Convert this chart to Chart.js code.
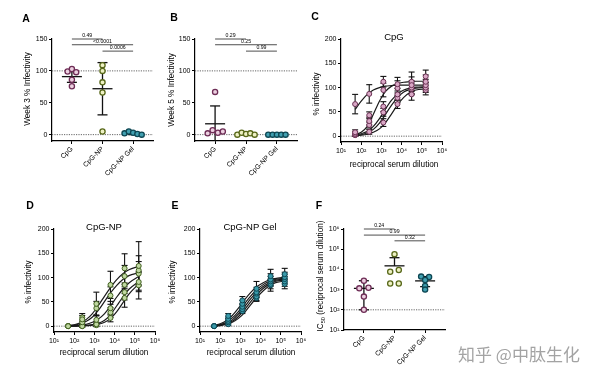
<!DOCTYPE html>
<html><head><meta charset="utf-8">
<script src="https://cdn.jsdelivr.net/npm/chart.js@4.4.1/dist/chart.umd.min.js"></script>
<style>
html,body{margin:0;padding:0;background:#fff;}
#wrap{position:relative;width:600px;height:379px;overflow:hidden;font-family:"Liberation Sans",Arial,sans-serif;color:#000;}
canvas{position:absolute;left:0;top:0;}
.t{position:absolute;white-space:nowrap;transform:translate(-50%,-50%);line-height:1;}
.r{transform:translate(-50%,-50%) rotate(-90deg);}
.lt{font-weight:bold;font-size:10.5px;}
.ttl{font-size:9.5px;}
.ax{font-size:8.2px;}
.wm{font-family:"Noto Sans CJK SC",sans-serif;font-size:17px;color:#a3a3a3;transform:translate(0,-50%);}
sub{font-size:0.7em;vertical-align:-0.25em;}
</style></head>
<body><div id="wrap">
<canvas id="cA" width="600" height="379"></canvas>
<canvas id="cB" width="600" height="379"></canvas>
<canvas id="cC" width="600" height="379"></canvas>
<canvas id="cD" width="600" height="379"></canvas>
<canvas id="cE" width="600" height="379"></canvas>
<canvas id="cF" width="600" height="379"></canvas>

<div class="t lt" style="left:26px;top:18px">A</div>
<div class="t lt" style="left:174px;top:17px">B</div>
<div class="t lt" style="left:315px;top:16px">C</div>
<div class="t lt" style="left:30px;top:205px">D</div>
<div class="t lt" style="left:175px;top:205px">E</div>
<div class="t lt" style="left:319px;top:205px">F</div>

<div class="t ttl" style="left:394px;top:37px">CpG</div>
<div class="t ttl" style="left:104px;top:227px">CpG-NP</div>
<div class="t ttl" style="left:250px;top:227px">CpG-NP Gel</div>

<div class="t ax r" style="left:28px;top:89px">Week 3 % Infectivity</div>
<div class="t ax r" style="left:172px;top:90px">Week 5 % Infectivity</div>
<div class="t ax r" style="left:317px;top:94px">% infectivity</div>
<div class="t ax r" style="left:29px;top:282px">% infectivity</div>
<div class="t ax r" style="left:173px;top:282px">% infectivity</div>
<div class="t ax r" style="left:322px;top:276px">IC<sub>50</sub> (reciprocal serum dilution)</div>

<div class="t ax" style="left:394px;top:165px">reciprocal serum dilution</div>
<div class="t ax" style="left:104px;top:353px">reciprocal serum dilution</div>
<div class="t ax" style="left:251px;top:353px">reciprocal serum dilution</div>

<div class="t wm" style="left:458px;top:353px">知乎 @中肽生化</div>
</div>
<script>
// ---------- data ----------
const categories = ['CpG', 'CpG-NP', 'CpG-NP Gel'];
const weekTicks = [0, 50, 100, 150];
const infTicks = [0, 50, 100, 150, 200];
const powTicks = [10, 100, 1000, 10000, 100000, 1000000];

// Panel A : week 3 % infectivity
const aCpG = [99, 103, 98, 86, 76];
const aNP = [109, 100, 82, 66, 5];
const aGel = [2, 5, 3, 1, 0];
const aSwarm = [[-0.14, 0, 0.14, 0, 0], [0, 0, 0, 0, 0], [-0.28, -0.14, 0, 0.14, 0.28]];
const aMean = [91, 72, 2];
const aLow = [82, 31, 0];
const aHigh = [99, 113, 4];
const aBracketY = [150, 141, 131];
const aPLabels = ['0.49', '<0.0001', '0.0006'];

// Panel B : week 5 % infectivity
const bCpG = [67, 2, 7, 3, 5];
const bNP = [0, 3, 1, 2, 0];
const bGel = [0, 0, 0, 0, 0];
const bSwarm = [[0, -0.24, -0.08, 0.09, 0.25], [-0.28, -0.14, 0, 0.14, 0.28], [-0.28, -0.14, 0, 0.14, 0.28]];
const bMean = [17, 1, 0];
const bLow = [-11, 0, 0];
const bHigh = [45, 2, 0];
const bBracketY = [150, 141, 131];
const bPLabels = ['0.29', '0.25', '0.99'];

// Panel F : IC50
const fCpG = [2750, 1150, 1240, 450, 100];
const fNP = [57000, 7700, 9400, 2000, 2000];
const fGel = [4400, 4200, 3000, 1500, 1000];
const fSwarm = [[0, -0.15, 0.15, 0, 0], [0, -0.14, 0.14, -0.14, 0.14], [-0.13, 0.13, 0, 0, 0]];
const fMean = [1150, 15000, 2700];
const fLow = [100, null, 1400];
const fHigh = [2750, 38000, 4400];
const fBracketY = [1000000, 500000, 260000];
const fPLabels = ['0.24', '0.99', '0.32'];

const bracketPairs = [[1, 2], [1, 3], [2, 3]];

// Neutralisation curves (C, D, E)
const dilutions = [50, 250, 1250, 6250, 31250, 156250];
const cVals = [
  [66, 87, 112, 107, 105, 123],
  [8, 43, 95, 99, 112, 112],
  [5, 31, 61, 86, 100, 105],
  [3, 23, 49, 79, 97, 100],
  [2, 9, 28, 66, 86, 95]];
const cErr = [
  [20, 19, 11, 14, 17, 13],
  [5, 7, 14, 15, 20, 14],
  [4, 8, 10, 12, 14, 12],
  [3, 6, 8, 10, 12, 10],
  [2, 5, 8, 9, 12, 10]];
const dVals = [
  [0, 14, 46, 85, 119, 124],
  [0, 18, 37, 63, 103, 115],
  [0, 8, 13, 37, 85, 108],
  [0, 0, 4, 28, 70, 91],
  [0, 0, 2, 17, 58, 84]];
const dErr = [
  [1, 8, 24, 28, 30, 50],
  [1, 8, 14, 18, 22, 30],
  [1, 5, 8, 14, 18, 25],
  [1, 2, 4, 10, 16, 20],
  [1, 2, 3, 8, 19, 28]];
const eVals = [
  [0, 21, 53, 77, 103, 107],
  [0, 15, 46, 70, 96, 101],
  [0, 11, 40, 67, 92, 97],
  [0, 8, 35, 61, 87, 92],
  [0, 4, 31, 58, 84, 87]];
const eErr = [
  [1, 5, 8, 15, 14, 12],
  [1, 4, 7, 10, 12, 10],
  [1, 4, 6, 8, 10, 10],
  [1, 3, 6, 8, 10, 10],
  [1, 3, 5, 7, 12, 10]];

// fitted curves
const curveX = [50, 100, 200, 400, 800, 1600, 3200, 6400, 12800, 25600, 51200, 156250];
const cFit = [
  [55, 72, 86, 95, 100, 103, 104, 105, 105, 105, 105, 105],
  [3, 8, 20, 45, 72, 92, 103, 108, 111, 112, 113, 113],
  [2, 5, 10, 20, 36, 56, 74, 87, 95, 99, 101, 102],
  [1, 3, 7, 14, 27, 45, 64, 80, 91, 96, 99, 100],
  [1, 2, 4, 8, 15, 28, 46, 65, 80, 90, 95, 97]];
const dFit = [
  [1, 3, 7, 14, 26, 43, 62, 80, 96, 108, 116, 123],
  [1, 2, 5, 10, 19, 33, 51, 69, 84, 96, 104, 110],
  [0, 1, 2, 4, 8, 15, 26, 42, 60, 76, 89, 102],
  [0, 0, 1, 2, 3, 6, 12, 24, 42, 60, 76, 92],
  [0, 0, 0, 1, 2, 4, 8, 16, 30, 48, 66, 87]];
const eFit = [
  [2, 5, 11, 22, 37, 54, 69, 81, 89, 95, 98, 101],
  [1, 3, 8, 17, 30, 46, 62, 75, 85, 92, 96, 99],
  [1, 3, 6, 13, 25, 40, 56, 70, 81, 89, 94, 97],
  [0, 2, 5, 10, 20, 34, 50, 65, 77, 86, 92, 95],
  [0, 1, 4, 8, 16, 28, 44, 59, 72, 82, 89, 93]];

// ---------- styles ----------
const FONT = '"Liberation Sans", Arial, sans-serif';
const SUP = {1: '\u00b9', 2: '\u00b2', 3: '\u00b3', 4: '\u2074', 5: '\u2075', 6: '\u2076'};
const groupStyle = [
  {bg: '#ecd0e0', border: '#6e2d56'},
  {bg: '#eef1c4', border: '#58681a'},
  {bg: '#41a0b1', border: '#0e4753'}];
const curveStyle = {
  C: {bg: '#d9a8c6', border: '#6a3153'},
  D: {bg: '#c0d8a2', border: '#41601f'},
  E: {bg: '#3a9bab', border: '#0f4854'}};

const YW = 30, XH = 40;
const gridOpt = {display: true, drawOnChartArea: false, drawTicks: true, tickLength: 3, color: '#000', lineWidth: 1};
const borderOpt = {display: true, color: '#000', width: 1.2};
const tickFont = {family: FONT, size: 7};

function zeroPad(s) { s.paddingLeft = 0; s.paddingRight = 0; s.paddingTop = 0; s.paddingBottom = 0; }
function pow10(v) { const e = Math.round(Math.log10(v)); return '10' + SUP[e]; }

function catX() {
  return {
    type: 'linear', position: 'bottom', min: 0.35, max: 3.65,
    afterBuildTicks: s => { s.ticks = categories.map((c, i) => ({value: i + 1})); },
    afterFit: s => { s.height = XH; zeroPad(s); },
    ticks: {callback: v => categories[Math.round(v) - 1], minRotation: 45, maxRotation: 45, autoSkip: false,
            font: {family: FONT, size: 6.8}, color: '#000', padding: 1},
    grid: gridOpt, border: borderOpt
  };
}
function logX() {
  return {
    type: 'logarithmic', position: 'bottom', min: 10, max: 1000000,
    afterBuildTicks: s => { s.ticks = powTicks.map(v => ({value: v})); },
    afterFit: s => { s.height = XH; zeroPad(s); },
    ticks: {callback: v => pow10(v), minRotation: 0, maxRotation: 0, autoSkip: false, font: tickFont, color: '#000', padding: 2},
    grid: gridOpt, border: borderOpt
  };
}
function linY(min, max, tickVals) {
  return {
    type: 'linear', position: 'left', min, max,
    afterBuildTicks: s => { s.ticks = tickVals.map(v => ({value: v})); },
    afterFit: s => { s.width = YW; zeroPad(s); },
    ticks: {autoSkip: false, font: tickFont, color: '#000', padding: 1.5},
    grid: gridOpt, border: borderOpt
  };
}
function logY() {
  return {
    type: 'logarithmic', position: 'left', min: 10, max: 1000000,
    afterBuildTicks: s => { s.ticks = powTicks.map(v => ({value: v})); },
    afterFit: s => { s.width = YW; zeroPad(s); },
    ticks: {callback: v => pow10(v), autoSkip: false, font: tickFont, color: '#000', padding: 1.5},
    grid: gridOpt, border: borderOpt
  };
}

function refLine(ctx, area, py) {
  ctx.save();
  ctx.setLineDash([1.2, 1.2]);
  ctx.strokeStyle = '#555';
  ctx.lineWidth = 0.9;
  ctx.beginPath(); ctx.moveTo(area.left, py); ctx.lineTo(area.right, py); ctx.stroke();
  ctx.restore();
}

function swarmPlugin(refs, means, lows, highs, bracketY, pLabels) {
  return {
    id: 'swarmDeco',
    beforeDatasetsDraw(chart) {
      const {ctx, chartArea: a, scales: {x, y}} = chart;
      refs.forEach(v => refLine(ctx, a, y.getPixelForValue(v)));
      ctx.save();
      ctx.beginPath(); ctx.rect(a.left, a.top - 1, a.right - a.left, a.bottom - a.top + 1); ctx.clip();
      ctx.strokeStyle = '#111'; ctx.lineWidth = 1.3;
      means.forEach((m, i) => {
        const px = x.getPixelForValue(i + 1);
        const pm = y.getPixelForValue(m);
        ctx.beginPath(); ctx.moveTo(px - 10, pm); ctx.lineTo(px + 10, pm); ctx.stroke();
        [highs[i], lows[i]].forEach(lim => {
          if (lim === null || lim === undefined) return;
          const pl = y.getPixelForValue(lim);
          ctx.beginPath(); ctx.moveTo(px, pm); ctx.lineTo(px, pl); ctx.stroke();
          ctx.beginPath(); ctx.moveTo(px - 5, pl); ctx.lineTo(px + 5, pl); ctx.stroke();
        });
      });
      ctx.restore();
      ctx.save();
      ctx.strokeStyle = '#222'; ctx.lineWidth = 0.8;
      ctx.fillStyle = '#000'; ctx.font = '5.2px ' + FONT;
      ctx.textAlign = 'center'; ctx.textBaseline = 'bottom';
      bracketPairs.forEach((p, k) => {
        const x1 = x.getPixelForValue(p[0]), x2 = x.getPixelForValue(p[1]);
        const py = y.getPixelForValue(bracketY[k]);
        ctx.beginPath(); ctx.moveTo(x1, py); ctx.lineTo(x2, py); ctx.stroke();
        ctx.fillText(pLabels[k], (x1 + x2) / 2, py - 0.6);
      });
      ctx.restore();
    }
  };
}

function curvePlugin(vals, errs) {
  return {
    id: 'curveDeco',
    beforeDatasetsDraw(chart) {
      const {ctx, chartArea: a, scales: {x, y}} = chart;
      refLine(ctx, a, y.getPixelForValue(0));
      ctx.save();
      ctx.beginPath(); ctx.rect(a.left, a.top, a.right - a.left, a.bottom - a.top); ctx.clip();
      ctx.strokeStyle = '#111'; ctx.lineWidth = 1.1;
      vals.forEach((row, j) => row.forEach((v, i) => {
        const e = errs[j][i];
        const px = x.getPixelForValue(dilutions[i]);
        const pt = y.getPixelForValue(v + e), pb = y.getPixelForValue(v - e);
        ctx.beginPath(); ctx.moveTo(px, pt); ctx.lineTo(px, pb); ctx.stroke();
        ctx.beginPath(); ctx.moveTo(px - 3, pt); ctx.lineTo(px + 3, pt); ctx.stroke();
        ctx.beginPath(); ctx.moveTo(px - 3, pb); ctx.lineTo(px + 3, pb); ctx.stroke();
      }));
      ctx.restore();
    }
  };
}

function makeChart(id, box, xs, ys, datasets, plugin) {
  return new Chart(document.getElementById(id), {
    type: 'scatter',
    data: {datasets},
    options: {
      responsive: false, animation: false, devicePixelRatio: 1, events: [],
      layout: {autoPadding: false, padding: {left: box.l - YW, top: box.t, right: 600 - box.r, bottom: 379 - box.b - XH}},
      plugins: {legend: {display: false}, tooltip: {enabled: false}, title: {display: false}},
      scales: {x: xs, y: ys}
    },
    plugins: [plugin]
  });
}

function swarmSets(groups, swarm) {
  return groups.map((vals, i) => ({
    data: vals.map((v, k) => ({x: i + 1 + swarm[i][k], y: v})),
    pointRadius: 2.6, pointBorderWidth: 1.3,
    pointBackgroundColor: groupStyle[i].bg, pointBorderColor: groupStyle[i].border,
    order: 1
  }));
}

function curveSets(vals, fits, st) {
  const sets = [];
  fits.forEach(f => sets.push({
    data: curveX.map((xv, i) => ({x: xv, y: f[i]})),
    showLine: true, borderColor: '#1b1b1b', borderWidth: 1.2, pointRadius: 0,
    cubicInterpolationMode: 'monotone', order: 2
  }));
  vals.forEach(row => sets.push({
    data: dilutions.map((xv, i) => ({x: xv, y: row[i]})),
    pointRadius: 2.5, pointBorderWidth: 1,
    pointBackgroundColor: st.bg, pointBorderColor: st.border, order: 1
  }));
  return sets;
}

makeChart('cA', {l: 52, t: 39, r: 153, b: 141}, catX(), linY(-10, 150, weekTicks),
  swarmSets([aCpG, aNP, aGel], aSwarm), swarmPlugin([0, 100], aMean, aLow, aHigh, aBracketY, aPLabels));
makeChart('cB', {l: 195, t: 39, r: 297, b: 141}, catX(), linY(-10, 150, weekTicks),
  swarmSets([bCpG, bNP, bGel], bSwarm), swarmPlugin([0, 100], bMean, bLow, bHigh, bBracketY, bPLabels));
makeChart('cF', {l: 344, t: 229, r: 445, b: 330}, catX(), logY(),
  swarmSets([fCpG, fNP, fGel], fSwarm), swarmPlugin([100], fMean, fLow, fHigh, fBracketY, fPLabels));

makeChart('cC', {l: 341, t: 39, r: 442, b: 142}, logX(), linY(-12, 200, infTicks),
  curveSets(cVals, cFit, curveStyle.C), curvePlugin(cVals, cErr));
makeChart('cD', {l: 54, t: 229, r: 155, b: 332}, logX(), linY(-12, 200, infTicks),
  curveSets(dVals, dFit, curveStyle.D), curvePlugin(dVals, dErr));
makeChart('cE', {l: 200, t: 229, r: 301, b: 332}, logX(), linY(-12, 200, infTicks),
  curveSets(eVals, eFit, curveStyle.E), curvePlugin(eVals, eErr));
</script>
</body></html>
